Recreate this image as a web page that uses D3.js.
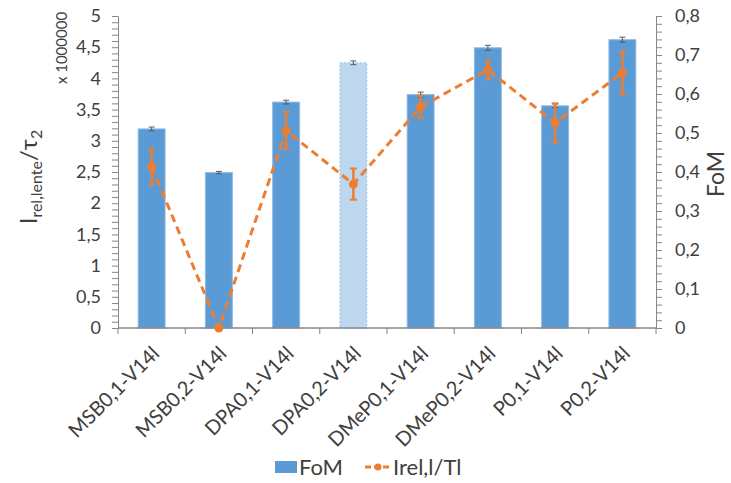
<!DOCTYPE html>
<html><head><meta charset="utf-8">
<script src="https://cdn.jsdelivr.net/npm/d3@7"></script>
<style>body{margin:0;background:#fff}svg{display:block}text{font-family:Lato,"Open Sans",sans-serif;fill:#404040}</style>
</head><body><svg id="c" width="731" height="483"></svg>
<script>
const categories = ["MSB0,1-V14l","MSB0,2-V14l","DPA0,1-V14l","DPA0,2-V14l","DMeP0,1-V14l","DMeP0,2-V14l","P0,1-V14l","P0,2-V14l"];
const barValues = [3.19, 2.49, 3.62, 4.25, 3.74, 4.49, 3.56, 4.62];
const barErrors = [0.03, 0.02, 0.03, 0.03, 0.04, 0.04, 0.03, 0.04];
const barHighlight = [false, false, false, true, false, false, false, false];
const lineValues = [0.414, 0.0, 0.506, 0.369, 0.567, 0.662, 0.526, 0.654];
const lineErrors = [0.046, 0.0, 0.048, 0.04, 0.029, 0.024, 0.05, 0.055];
const leftTicks = [0,0.5,1,1.5,2,2.5,3,3.5,4,4.5,5];
const rightTicks = [0,0.1,0.2,0.3,0.4,0.5,0.6,0.7,0.8];

const svg = d3.select("#c");
const L = 118, R = 656, T = 16, B = 328;
const x = d3.scaleBand().domain(categories).range([L, R]).paddingInner(0.6).paddingOuter(0.3);
const yL = d3.scaleLinear().domain([0,5]).range([B,T]);
const yR = d3.scaleLinear().domain([0,0.8]).range([B,T]);
const fmt = d => d3.format("")(d).replace(".", ",");
const axisCol = "#868686";

// minor ticks
const gl = svg.append("g").attr("transform",`translate(${L},0)`)
  .call(d3.axisLeft(yL).tickValues(d3.range(0,51).map(i=>i/10)).tickSize(6).tickFormat(""));
gl.select(".domain").remove();
gl.selectAll("line").attr("stroke",axisCol);
const gr = svg.append("g").attr("transform",`translate(${R},0)`)
  .call(d3.axisRight(yR).tickValues(d3.range(0,41).map(i=>i/50)).tickSize(6).tickFormat(""));
gr.select(".domain").remove();
gr.selectAll("line").attr("stroke",axisCol);

// tick labels
const al = svg.append("g").attr("transform",`translate(${L},0)`)
  .call(d3.axisLeft(yL).tickValues(leftTicks).tickSize(0).tickPadding(17).tickFormat(fmt));
al.select(".domain").attr("stroke",axisCol);
al.selectAll("text").style("font-size","18px").attr("fill","#404040");
const ar = svg.append("g").attr("transform",`translate(${R},0)`)
  .call(d3.axisRight(yR).tickValues(rightTicks).tickSize(0).tickPadding(19).tickFormat(fmt));
ar.select(".domain").attr("stroke",axisCol);
ar.selectAll("text").style("font-size","18px").attr("fill","#404040");

// bars
svg.append("g").selectAll("rect").data(categories).join("rect")
  .attr("x", d=>x(d)).attr("width", x.bandwidth())
  .attr("y", (d,i)=>yL(barValues[i])).attr("height",(d,i)=>B-yL(barValues[i]))
  .attr("fill",(d,i)=>barHighlight[i]?"#BDD7EE":"#5B9BD5")
  .attr("stroke",(d,i)=>barHighlight[i]?"#9DC3E6":"#8FB8E2")
  .attr("stroke-width",1)
  .attr("stroke-dasharray",(d,i)=>barHighlight[i]?"2,2":null);

// bar error bars
const cx = d => x(d)+x.bandwidth()/2;
const be = svg.append("g").attr("stroke","#595959").attr("stroke-width",1);
categories.forEach((d,i)=>{
  const y1=yL(barValues[i]-barErrors[i]), y2=yL(barValues[i]+barErrors[i]);
  be.append("line").attr("x1",cx(d)).attr("x2",cx(d)).attr("y1",y1).attr("y2",y2);
  be.append("line").attr("x1",cx(d)-3).attr("x2",cx(d)+3).attr("y1",y1).attr("y2",y1);
  be.append("line").attr("x1",cx(d)-3).attr("x2",cx(d)+3).attr("y1",y2).attr("y2",y2);
});

// x axis
const ax = svg.append("g").attr("transform",`translate(0,${B})`);
ax.append("line").attr("x1",L).attr("x2",R).attr("stroke",axisCol).attr("stroke-width",1.5);
const step = (R-L)/categories.length;
d3.range(categories.length+1).forEach(k=>{
  ax.append("line").attr("x1",L+k*step).attr("x2",L+k*step).attr("y1",0).attr("y2",6).attr("stroke",axisCol);
});
ax.selectAll("text.xl").data(categories).join("text").attr("class","xl")
  .attr("transform",d=>`translate(${cx(d)+4},22) rotate(-45)`)
  .attr("text-anchor","end").attr("dy","0.35em").style("font-size","20px").text(d=>d);

// orange line
const orange = "#ED7D31";
svg.append("path").datum(categories)
  .attr("d", d3.line().x(d=>cx(d)).y((d,i)=>yR(lineValues[i])))
  .attr("fill","none").attr("stroke",orange).attr("stroke-width",3).attr("stroke-dasharray","8,5");
const oe = svg.append("g").attr("stroke",orange).attr("stroke-width",2.5);
categories.forEach((d,i)=>{
  if(!lineErrors[i]) return;
  const y1=yR(lineValues[i]-lineErrors[i]), y2=yR(lineValues[i]+lineErrors[i]);
  oe.append("line").attr("x1",cx(d)).attr("x2",cx(d)).attr("y1",y1).attr("y2",y2);
  oe.append("line").attr("x1",cx(d)-3.5).attr("x2",cx(d)+3.5).attr("y1",y1).attr("y2",y1).attr("stroke-width",2);
  oe.append("line").attr("x1",cx(d)-3.5).attr("x2",cx(d)+3.5).attr("y1",y2).attr("y2",y2).attr("stroke-width",2);
});
svg.append("g").selectAll("circle").data(categories).join("circle")
  .attr("cx",cx).attr("cy",(d,i)=>yR(lineValues[i])).attr("r",4.5).attr("fill",orange);

// axis titles
const lt = svg.append("text").attr("transform","translate(37,177) rotate(-90)").attr("text-anchor","middle").style("font-size","24px");
lt.append("tspan").text("I");
lt.append("tspan").attr("dy",5).style("font-size","16px").text("rel,lente");
lt.append("tspan").attr("dy",-5).text("/τ");
lt.append("tspan").attr("dy",5).style("font-size","16px").text("2");
svg.append("text").attr("transform","translate(67,48) rotate(-90)").attr("text-anchor","middle")
  .style("font-size","15px").text("x 1000000");
svg.append("text").attr("transform","translate(724,174) rotate(-90)").attr("text-anchor","middle").style("font-size","23px").text("FoM");

// legend
const lg = svg.append("g");
lg.append("rect").attr("x",275).attr("y",461).attr("width",22).attr("height",12).attr("fill","#5B9BD5");
lg.append("text").attr("x",299).attr("y",467).attr("dy","0.35em").style("font-size","22px").text("FoM");
lg.append("line").attr("x1",365).attr("x2",391).attr("y1",467).attr("y2",467).attr("stroke",orange).attr("stroke-width",3).attr("stroke-dasharray","6,3");
lg.append("circle").attr("cx",378).attr("cy",467).attr("r",3.5).attr("fill",orange);
lg.append("text").attr("x",393).attr("y",467).attr("dy","0.35em").style("font-size","22px").text("Irel,l/Tl");
</script></body></html>
